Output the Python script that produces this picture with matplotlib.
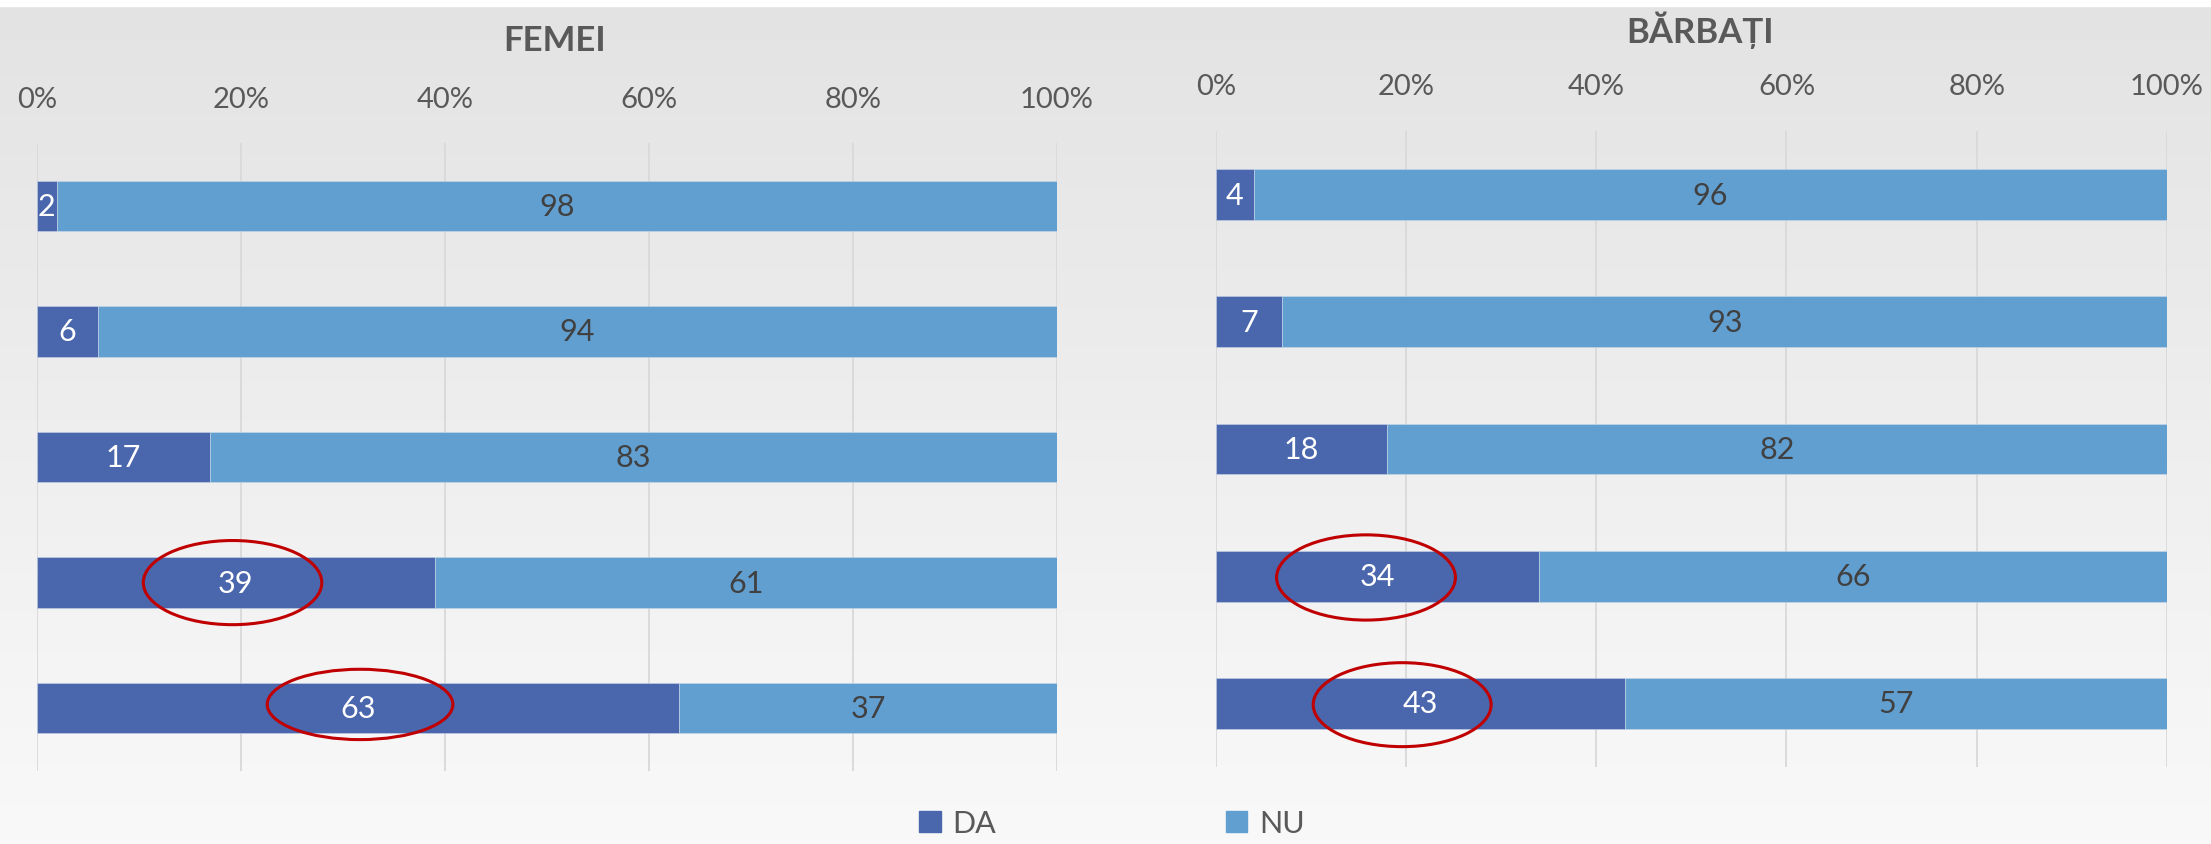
import numpy as np
import matplotlib.pyplot as plt
from matplotlib.patches import Ellipse, Patch
from matplotlib.colors import LinearSegmentedColormap

plt.rcParams['font.family'] = ['Lato', 'DejaVu Sans']

# data
rows = [0, 1, 2, 3, 4]
femei_da = [2, 6, 17, 39, 63]
femei_nu = [98, 94, 83, 61, 37]
barbati_da = [4, 7, 18, 34, 43]
barbati_nu = [96, 93, 82, 66, 57]
ticks = [0, 20, 40, 60, 80, 100]
tick_labels = ['0%', '20%', '40%', '60%', '80%', '100%']
legend_labels = ['DA', 'NU']

# red circles drawn round the highlighted values: (x centre, row, width, height)
femei_marks = [(19.2, 3.0, 17.5, 0.67), (31.7, 3.97, 18.2, 0.56)]
barbati_marks = [(15.8, 3.01, 18.8, 0.67), (19.6, 4.01, 18.7, 0.66)]

DA_COLOR = '#4a66ac'
NU_COLOR = '#629fd1'
TEXT = '#595959'

fig = plt.figure(figsize=(22.11, 8.45), dpi=100)

# background gradient
bg = fig.add_axes([0, 0, 1, 1], zorder=-10)
cmap = LinearSegmentedColormap.from_list('bg', ['#f9f9f9', '#e3e3e3'])
grad = np.linspace(0, 1, 256).reshape(-1, 1)
bg.imshow(grad, aspect='auto', cmap=cmap, extent=[0, 1, 0, 1], origin='lower')
bg.axhspan(1 - 7 / 845, 1, color='white')
bg.set_xlim(0, 1)
bg.set_ylim(0, 1)
bg.axis('off')


def draw_panel(ax, da, nu, marks, pad):
    ax.set_facecolor('none')
    b1 = ax.barh(rows, da, height=0.4, color=DA_COLOR, edgecolor='#c9d3e8', linewidth=0.4)
    b2 = ax.barh(rows, nu, left=da, height=0.4, color=NU_COLOR, edgecolor='#c9d8ea', linewidth=0.4)
    ax.bar_label(b1, labels=[str(v) for v in da], label_type='center', color='white', fontsize=22)
    ax.bar_label(b2, labels=[str(v) for v in nu], label_type='center', color='#404040', fontsize=22)
    for x, y, w, h in marks:
        ax.add_patch(Ellipse((x, y), w, h, fill=False, edgecolor='#c00000', linewidth=2.2, zorder=5))
    ax.set_xlim(0, 100)
    ax.set_ylim(4.5, -0.5)
    ax.xaxis.tick_top()
    ax.set_xticks(ticks)
    ax.set_xticklabels(tick_labels)
    ax.tick_params(axis='x', length=0, pad=pad, labelsize=21, labelcolor=TEXT)
    ax.set_yticks([])
    ax.set_axisbelow(True)
    ax.grid(axis='x', color='#d9d9d9', linewidth=1.3)
    for s in ax.spines.values():
        s.set_visible(False)


ax1 = fig.add_axes([36.7 / 2211, 1 - 772 / 845, 1020 / 2211, 628 / 845])
draw_panel(ax1, femei_da, femei_nu, femei_marks, 22)
ax2 = fig.add_axes([1215.7 / 2211, 1 - 768 / 845, 951.3 / 2211, 636 / 845])
draw_panel(ax2, barbati_da, barbati_nu, barbati_marks, 23)

fig.text(555 / 2211, 1 - 41 / 845, 'FEMEI', ha='center', va='center',
         fontsize=25, fontweight='bold', color=TEXT)
fig.text(1700 / 2211, 1 - 30 / 845, 'BĂRBAȚI', ha='center', va='center',
         fontsize=25, fontweight='bold', color=TEXT)

handles = [Patch(color=DA_COLOR), Patch(color=NU_COLOR)]
fig.legend(handles, legend_labels, loc='center', bbox_to_anchor=(1112 / 2211, 1 - 824 / 845),
           ncol=2, frameon=False, fontsize=22, labelcolor=TEXT,
           handlelength=0.7, handleheight=0.7, handletextpad=0.4, columnspacing=7.5,
           borderpad=0.1)

fig.savefig('out.png', dpi=100)
